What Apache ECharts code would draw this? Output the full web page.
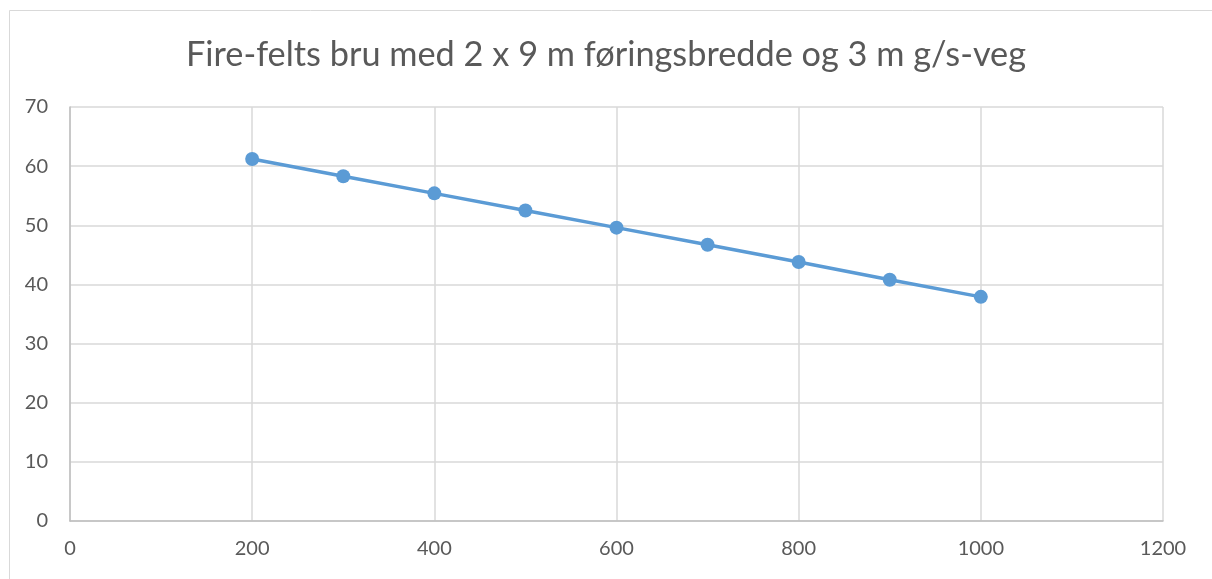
<!DOCTYPE html>
<html>
<head>
<meta charset="utf-8">
<script src="https://cdn.jsdelivr.net/npm/echarts@6/dist/echarts.min.js"></script>
<style>html,body{margin:0;padding:0;background:#fff;}#c{width:1212px;height:579px;}</style>
</head>
<body>
<div id="c"></div>
<script>
const titleText = 'Fire-felts bru med 2 x 9 m føringsbredde og 3 m g/s-veg';
const xValues = [200, 300, 400, 500, 600, 700, 800, 900, 1000];
const yValues = [61.2, 58.3, 55.4, 52.5, 49.6, 46.7, 43.8, 40.8, 37.9];

const chart = echarts.init(document.getElementById('c'), null, {renderer: 'canvas'});
const font = 'Lato';
chart.setOption({
  animation: false,
  backgroundColor: '#fff',
  graphic: [{
    type: 'rect', left: 7, top: 8, z: -1,
    shape: {x: 0.5, y: 0.5, width: 1230, height: 620},
    style: {fill: 'none', stroke: '#d9d9d9', lineWidth: 1}
  }],
  title: {
    text: titleText, left: 'center', top: 33,
    textStyle: {fontFamily: font, fontSize: 34.3, fontWeight: 'normal', color: '#595959'}
  },
  grid: {left: 70, right: 49, top: 107, bottom: 58, containLabel: false},
  xAxis: {
    type: 'value', min: 0, max: 1200, interval: 200,
    axisLine: {show: true, lineStyle: {color: '#bfbfbf', width: 1.5}},
    axisTick: {show: false},
    splitLine: {show: true, lineStyle: {color: '#d9d9d9', width: 1.5}},
    axisLabel: {fontFamily: font, fontSize: 20, color: '#595959', margin: 18, formatter: v => String(v)}
  },
  yAxis: {
    type: 'value', min: 0, max: 70, interval: 10,
    axisLine: {show: true, lineStyle: {color: '#bfbfbf', width: 1.5}},
    axisTick: {show: false},
    splitLine: {show: true, lineStyle: {color: '#d9d9d9', width: 1.5}},
    axisLabel: {fontFamily: font, fontSize: 20, color: '#595959', margin: 22, formatter: v => String(v)}
  },
  series: [{
    type: 'line',
    data: xValues.map((x, i) => [x, yValues[i]]),
    symbol: 'circle', symbolSize: 14,
    lineStyle: {color: '#5b9bd5', width: 3.5},
    itemStyle: {color: '#5b9bd5'}
  }]
});
</script>
</body>
</html>
